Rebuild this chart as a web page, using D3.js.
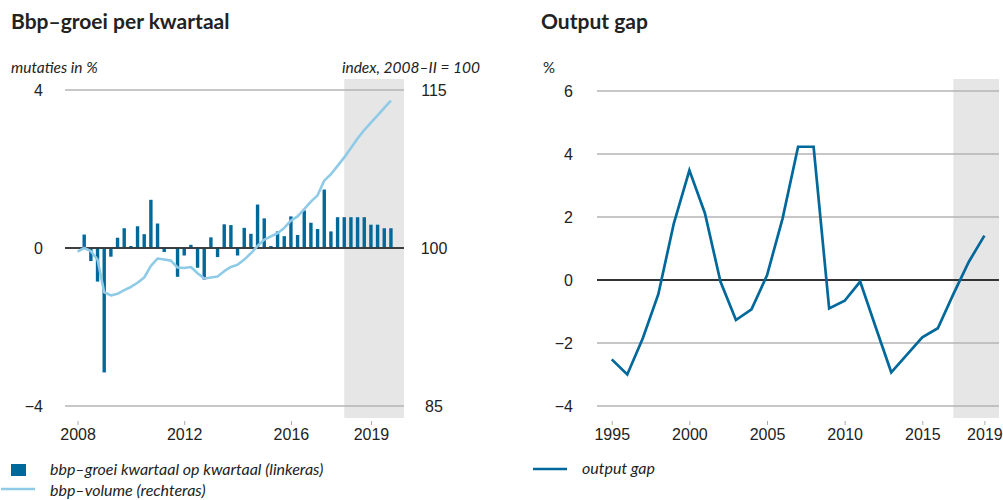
<!DOCTYPE html>
<html>
<head>
<meta charset="utf-8">
<script src="https://cdnjs.cloudflare.com/ajax/libs/d3/7.8.5/d3.min.js"></script>
<style>
body { margin: 0; background: #fff; }
svg { font-family: Lato, "Open Sans", sans-serif; fill: #222; }
.titel { font-size: 21px; font-weight: bold; }
.eenheid { font-size: 15.5px; font-style: italic; }
.leg { font-size: 16px; font-style: italic; }
.as text { font-size: 16px; fill: #222; }
.as .domain { display: none; }
</style>
</head>
<body>
<svg id="chart" width="1003" height="500"></svg>
<script>
// bbp-groei per kwartaal, 2008-I t/m 2019-IV (mutaties in %)
var bbpGroei = [
    0.00, 0.34, -0.33, -0.85,
    -3.15, -0.22, 0.26, 0.50,
    0.05, 0.55, 0.35, 1.22,
    0.62, -0.10, -0.02, -0.73,
    -0.19, 0.08, -0.50, -0.80,
    0.27, -0.23, 0.60, 0.58,
    -0.19, 0.51, 0.36, 1.10,
    0.75, 0.05, 0.42, 0.30,
    0.80, 0.33, 0.95, 0.64,
    0.48, 1.48, 0.42, 0.78,
    0.78, 0.78, 0.78, 0.78,
    0.59, 0.59, 0.50, 0.50
];
// bbp-volume, index 2008-II = 100
var bbpVolume = [
    99.65, 100.0, 99.7, 98.9,
    95.8, 95.5, 95.65, 96.0,
    96.3, 96.7, 97.2, 98.3,
    99.0, 98.9, 98.8, 98.15,
    98.1, 98.2, 97.6, 97.1,
    97.2, 97.3, 97.8, 98.2,
    98.4, 98.9, 99.5, 100.2,
    100.8, 101.1, 101.4, 101.9,
    102.6, 103.0, 103.7, 104.4,
    105.0, 106.4, 107.0, 107.8,
    108.6, 109.5, 110.4, 111.2,
    111.9, 112.6, 113.3, 114.0
];
var kwartalen = d3.range(2008, 2020).flatMap(function (j) {
    return [j, j + 0.25, j + 0.5, j + 0.75];
});

var jaren = [1995, 1996, 1997, 1998, 1999, 2000, 2001, 2002, 2003, 2004, 2005, 2006,
    2007, 2008, 2009, 2010, 2011, 2012, 2013, 2014, 2015, 2016, 2017, 2018, 2019];
var outputGap = [-2.52, -3.0, -1.85, -0.45, 1.8, 3.48, 2.12, -0.05, -1.27, -0.93, 0.15, 1.95,
    4.23, 4.23, -0.9, -0.66, -0.05, -1.5, -2.93, -2.38, -1.82, -1.53, -0.45, 0.58, 1.41];

var linksTicks = [-4, 0, 4], rechtsTicks = [85, 100, 115];
var jaarTicksL = [2008, 2012, 2016, 2019];
var gapTicks = [-4, -2, 0, 2, 4, 6];
var jaarTicksR = [1995, 2000, 2005, 2010, 2015, 2019];

var donker = "#01689b", licht = "#8fcae7", grijs = "#b4b4b4", vlak = "#e6e6e6";
var svg = d3.select("#chart");

// ---------- links: bbp-groei ----------
var xL = d3.scaleLinear().domain([2007.53, 2020.24]).range([65, 404]),
    yL = d3.scaleLinear().domain([-4, 4]).range([406, 90]),
    yR = d3.scaleLinear().domain([85, 115]).range([406, 90]);

var gL = svg.append("g");
gL.append("rect").attr("x", xL(2018)).attr("y", 79)
    .attr("width", xL(2020.24) - xL(2018)).attr("height", 339).attr("fill", vlak);
gL.selectAll("line.grid").data(linksTicks).enter().append("line").attr("class", "grid")
    .attr("x1", xL.range()[0]).attr("x2", xL.range()[1])
    .attr("y1", function (d) { return yL(d) }).attr("y2", function (d) { return yL(d) })
    .style("stroke", function (d) { return d === 0 ? "#333" : grijs })
    .style("stroke-width", 1.6);
gL.selectAll("rect.bar").data(bbpGroei).enter().append("rect").attr("class", "bar")
    .attr("x", function (d, i) { return xL(kwartalen[i]) - 1.7 })
    .attr("width", 3.4)
    .attr("y", function (d) { return yL(Math.max(0, d)) })
    .attr("height", function (d) { return Math.abs(yL(d) - yL(0)) })
    .attr("fill", donker);
gL.append("line").attr("x1", xL.range()[0]).attr("x2", xL.range()[1])
    .attr("y1", yL(0)).attr("y2", yL(0)).style("stroke", "#333").style("stroke-width", 1.6);
gL.append("path").datum(bbpVolume)
    .attr("d", d3.line().x(function (d, i) { return xL(kwartalen[i]) }).y(function (d) { return yR(d) }))
    .attr("fill", "none").attr("stroke", licht).attr("stroke-width", 2.6).attr("stroke-linejoin", "round");

gL.append("g").attr("class", "as").attr("transform", "translate(65,0)")
    .call(d3.axisLeft(yL).tickValues(linksTicks).tickSize(0).tickPadding(22)
        .tickFormat(function (d) { return d < 0 ? "\u2212" + (-d) : d }))
    .selectAll("text").attr("dy", "0.36em");
gL.append("g").attr("class", "as").attr("transform", "translate(404,0)")
    .call(d3.axisRight(yR).tickValues(rechtsTicks).tickSize(0))
    .selectAll("text").attr("text-anchor", "middle").attr("x", 30).attr("dy", "0.36em");
var axL = gL.append("g").attr("class", "as").attr("transform", "translate(0,421)")
    .call(d3.axisBottom(xL).tickValues(jaarTicksL).tickSize(4).tickPadding(4).tickFormat(d3.format("d")));
axL.selectAll("line").attr("stroke", "#aaa");

svg.append("text").attr("class", "titel").attr("x", 11).attr("y", 29).text("Bbp\u2013groei per kwartaal");
svg.append("text").attr("class", "eenheid").attr("x", 11).attr("y", 73).text("mutaties in %");
svg.append("text").attr("class", "eenheid").attr("x", 480).attr("y", 73).attr("text-anchor", "end")
    .text("index, 2008\u2013II = 100");

// legenda links
svg.append("rect").attr("x", 11).attr("y", 464).attr("width", 15).attr("height", 12).attr("fill", donker);
svg.append("text").attr("class", "leg").attr("x", 50).attr("y", 475).text("bbp\u2013groei kwartaal op kwartaal (linkeras)");
svg.append("line").attr("x1", 1).attr("x2", 35).attr("y1", 489).attr("y2", 489)
    .attr("stroke", licht).attr("stroke-width", 2.6);
svg.append("text").attr("class", "leg").attr("x", 50).attr("y", 496).text("bbp\u2013volume (rechteras)");

// ---------- rechts: output gap ----------
var xG = d3.scaleLinear().domain([1994.05, 2019.94]).range([597, 999]),
    yG = d3.scaleLinear().domain([-4, 6]).range([406, 91]);

var gR = svg.append("g");
gR.append("rect").attr("x", xG(2017)).attr("y", 79)
    .attr("width", xG(2019.94) - xG(2017)).attr("height", 339).attr("fill", vlak);
gR.selectAll("line.grid").data(gapTicks).enter().append("line").attr("class", "grid")
    .attr("x1", xG.range()[0]).attr("x2", xG.range()[1])
    .attr("y1", function (d) { return yG(d) }).attr("y2", function (d) { return yG(d) })
    .style("stroke", function (d) { return d === 0 ? "#333" : grijs })
    .style("stroke-width", function (d) { return d === 0 ? 2 : 1.6 });
gR.append("path").datum(outputGap)
    .attr("d", d3.line().x(function (d, i) { return xG(jaren[i]) }).y(function (d) { return yG(d) }))
    .attr("fill", "none").attr("stroke", donker).attr("stroke-width", 2.7).attr("stroke-linejoin", "miter");

gR.append("g").attr("class", "as").attr("transform", "translate(597,0)")
    .call(d3.axisLeft(yG).tickValues(gapTicks).tickSize(0).tickPadding(24)
        .tickFormat(function (d) { return d < 0 ? "\u2212" + (-d) : d }))
    .selectAll("text").attr("dy", "0.36em");
var axR = gR.append("g").attr("class", "as").attr("transform", "translate(0,421)")
    .call(d3.axisBottom(xG).tickValues(jaarTicksR).tickSize(4).tickPadding(4).tickFormat(d3.format("d")));
axR.selectAll("line").attr("stroke", "#aaa");

svg.append("text").attr("class", "titel").attr("x", 541).attr("y", 29).text("Output gap");
svg.append("text").attr("x", 543).attr("y", 73).style("font-size", "15px").text("%");

svg.append("line").attr("x1", 533).attr("x2", 567).attr("y1", 469).attr("y2", 469)
    .attr("stroke", donker).attr("stroke-width", 2.7);
svg.append("text").attr("class", "leg").attr("x", 582).attr("y", 474).text("output gap");
</script>
</body>
</html>
